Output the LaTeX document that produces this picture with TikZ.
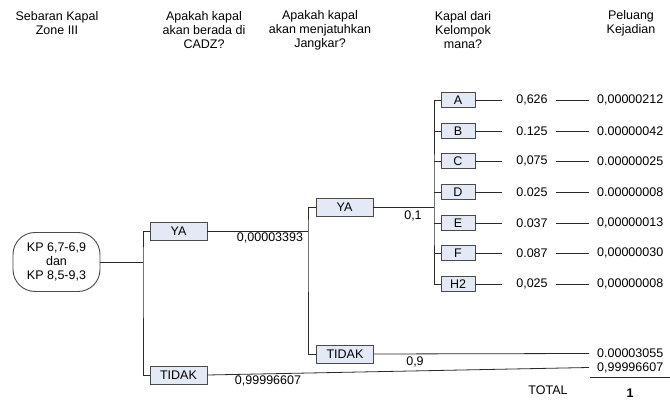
\documentclass[tikz,border=0pt]{standalone}
\usepackage{fontspec}
\setmainfont{Liberation Sans}
\definecolor{boxfill}{HTML}{E3EAF5}
\definecolor{boxline}{HTML}{4A4A4A}
\definecolor{wire}{HTML}{2A2A2A}
\begin{document}
\begin{tikzpicture}[x=1pt,y=-1pt,
  every node/.style={font=\fontsize{12.5}{14}\selectfont, text=black},
  choice/.style={draw=boxline, fill=boxfill, line width=0.9pt,
    minimum width=57pt, minimum height=18pt, inner sep=0pt},
  group/.style={draw=boxline, fill=boxfill, line width=0.9pt,
    minimum width=34pt, minimum height=15pt, inner sep=0pt},
  start/.style={draw=boxline, line width=0.9pt, rounded corners=22pt,
    minimum width=87pt, minimum height=59pt, inner sep=0pt, align=center},
  head/.style={align=center, inner sep=0pt},
  lbl/.style={inner sep=0pt},
  prob/.style={inner xsep=8pt, inner ysep=0pt},
  val/.style={anchor=west, inner xsep=8pt, inner ysep=0pt},
  wire/.style={draw=wire, line width=0.8pt}]
\useasboundingbox (0,0) rectangle (670,403);

% column headings
\node[head] (h1) at (57,23) {Sebaran Kapal\\Zone III};
\node[head] (h2) at (204,30) {Apakah kapal\\akan berada di\\CADZ?};
\node[head] (h3) at (320,30) {Apakah kapal\\akan menjatuhkan\\Jangkar?};
\node[head] (h4) at (463,30) {Kapal dari\\Kelompok\\mana?};
\node[head] (h5) at (631,23) {Peluang\\Kejadian};

% starting segment
\node[start] (root) at (56.5,262) {KP 6,7-6,9\\dan\\KP 8,5-9,3};

% first branch: in CADZ?
\node[choice] (ya1) at (178.5,231) {YA};
\node[choice] (tidak1) at (178.5,375) {TIDAK};
\coordinate (j1) at (143,262);
\draw[wire] (root.east) -- (j1);
\draw[wire] (ya1.west) -| (j1) |- (tidak1.west);

% second branch: anchor dropped?
\coordinate (j2) at (308,231);
\node[choice] (ya2) at (344.5,207) {YA};
\node[choice] (tidak2) at (345,354) {TIDAK};
\draw[wire] (ya1.east) -- (j2);
\draw[wire] (ya2.west) -| (j2) |- (tidak2.west);

% third branch: ship group
\coordinate (j3) at (434,207);
\draw[wire] (ya2.east) -- (j3);
\foreach \n/\t/\y/\p/\v in {
  A/A/100/{0,626}/{0,00000212},
  B/B/131/{0.125}/{0.00000042},
  C/C/161/{0,075}/{0.00000025},
  D/D/192/{0.025}/{0.00000008},
  E/E/223/{0.037}/{0,00000013},
  F/F/253/{0.087}/{0,00000030},
  H/H2/284/{0,025}/{0,00000008}} {
  \node[group] (g\n) at (458,\y) {\t};
  \draw[wire] (j3 |- g\n) -- (g\n.west);
  \draw[wire] (g\n.east) -- ++(27,0);
  \node[prob] (p\n) at (532,\y) {\p};
  \node[val] (v\n) at (589,\y) {\v};
  \draw[wire] (p\n.east) -- (v\n.west);
}
\draw[wire] (gA.west) -| (j3) |- (gH.west);

% outcomes without anchoring and outside CADZ
\node[val] (vT2) at (589,353.5) {0.00003055};
\draw[wire] (tidak2.east) -- (vT2.west);
\node[val] (vT1) at (589,367.5) {0,99996607};
\draw[wire] (tidak1.east) -- (vT1.west);
\draw[wire] (590,377) -- (670,377);

% branch probabilities
\node[lbl] (q1) at (270,238) {0,00003393};
\node[lbl] (q2) at (413,216) {0,1};
\node[lbl] (q3) at (415,362) {0,9};
\node[lbl] (q4) at (268,381) {0,99996607};

% total
\node[lbl] (tot) at (548,390) {TOTAL};
\node[lbl] (one) at (630,393) {\bfseries 1};
\end{tikzpicture}
\end{document}
